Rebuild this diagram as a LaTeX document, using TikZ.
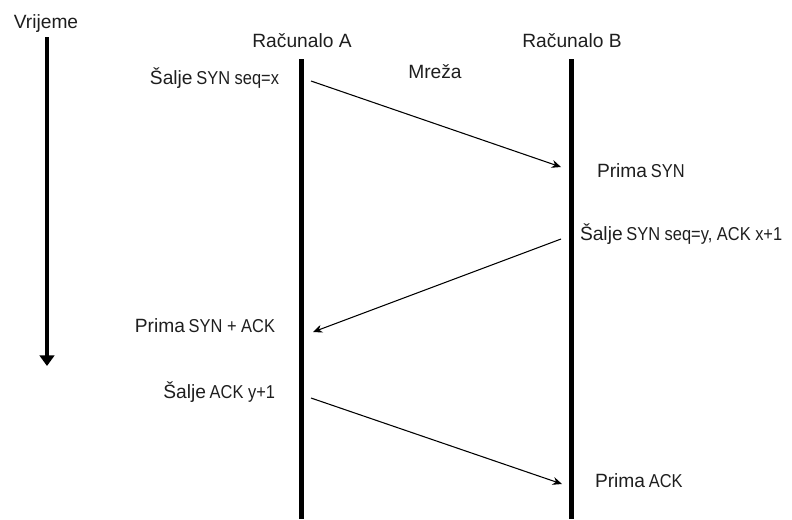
\documentclass[tikz,border=0pt]{standalone}
\usepackage{fontspec}
\setmainfont{Liberation Sans}
\newfontfamily\narrowf[FakeStretch=0.88]{Liberation Sans}
\usetikzlibrary{arrows.meta}
\newcommand{\bigw}[1]{{\fontsize{14.4pt}{16pt}\selectfont #1}}
\newcommand{\smw}[1]{{\narrowf\fontsize{14pt}{16pt}\selectfont #1}}
\definecolor{txt}{HTML}{1E1E1E}
\begin{document}
\begin{tikzpicture}[x=0.75pt,y=-0.75pt,
  lbl/.style={inner sep=0pt,outer sep=0pt,text=txt},
  lifeline/.style={line width=3.6pt,black},
  timeline/.style={line width=3pt,black,-{Triangle[width=11pt,length=8pt]}},
  msg/.style={line width=0.8pt,black,-{Stealth[length=7pt,width=6pt]}}]
\useasboundingbox (0,0) rectangle (792,519);
% time axis
\node[lbl,anchor=base] (vr) at (46,28) {\bigw{Vrijeme}};
\coordinate (t0) at (47,37);
\coordinate (t1) at (47,366);
\draw[timeline] (t0) -- (t1);
% lifelines
\node[lbl,anchor=base] (ra) at (302,47) {\bigw{Računalo A}};
\node[lbl,anchor=base] (rb) at (572,47) {\bigw{Računalo B}};
\node[lbl,anchor=base] (mr) at (435,78) {\bigw{Mreža}};
\coordinate (a0) at (301.5,59);
\coordinate (a1) at (301.5,519);
\coordinate (b0) at (571.5,59);
\coordinate (b1) at (571.5,519);
\draw[lifeline] (a0) -- (a1);
\draw[lifeline] (b0) -- (b1);
% labels
\node[lbl,anchor=base east] (s1) at (279,84) {\bigw{Šalje} \smw{SYN seq=x}};
\node[lbl,anchor=base west] (p1) at (597,177) {\bigw{Prima} \smw{SYN}};
\node[lbl,anchor=base west] (s2) at (580,240) {\bigw{Šalje} \smw{SYN seq=y, ACK x+1}};
\node[lbl,anchor=base east] (p2) at (275,332) {\bigw{Prima} \smw{SYN + ACK}};
\node[lbl,anchor=base east] (s3) at (275,398) {\bigw{Šalje} \smw{ACK y+1}};
\node[lbl,anchor=base west] (p3) at (595,487) {\bigw{Prima} \smw{ACK}};
% message endpoints
\coordinate (m1s) at (311,81);
\coordinate (m1e) at (561,167);
\coordinate (m2s) at (561,239);
\coordinate (m2e) at (313,332);
\coordinate (m3s) at (311,398);
\coordinate (m3e) at (562,484);
\draw[msg] (m1s) -- (m1e);
\draw[msg] (m2s) -- (m2e);
\draw[msg] (m3s) -- (m3e);
\end{tikzpicture}
\end{document}
